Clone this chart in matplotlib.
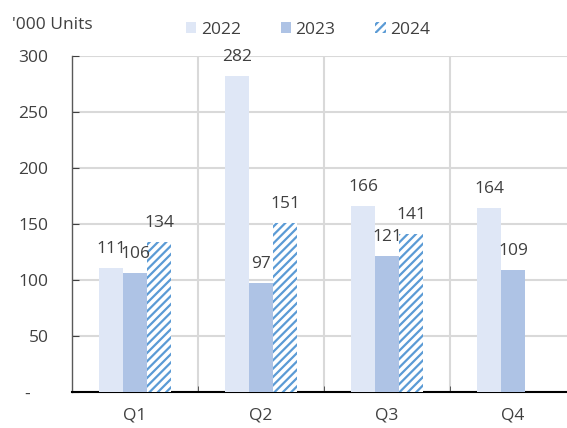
import matplotlib
matplotlib.use("Agg")
import matplotlib.pyplot as plt
import numpy as np
from matplotlib.patches import Patch

quarters = ["Q1", "Q2", "Q3", "Q4"]
years = ["2022", "2023", "2024"]
v2022 = [111, 282, 166, 164]
v2023 = [106, 97, 121, 109]
v2024 = [134, 151, 141, None]
yticks = [0, 50, 100, 150, 200, 250, 300]
ytick_labels = ["-    ", "50", "100", "150", "200", "250", "300"]

plt.rcParams['font.family'] = ['Open Sans', 'DejaVu Sans']
plt.rcParams['hatch.linewidth'] = 1.6

c22 = '#DFE7F6'
c23 = '#AEC3E5'
c24 = '#5B9BD5'
txt = '#404040'
FS = 12.5

fig = plt.figure(figsize=(5.67, 4.28), dpi=100)
ax = fig.add_axes([72/567, 1-392/428, 504/567, 336/428])

x = np.arange(len(quarters))
w = 0.19
series = [(v2022, c22, None), (v2023, c23, None), (v2024, 'white', '////')]
for i, (vals, col, hatch) in enumerate(series):
    off = (i - 1) * w
    for xi, v in zip(x, vals):
        if v is None:
            continue
        if hatch:
            ax.bar(xi + off, v, w, color='white', edgecolor=c24, hatch=hatch, linewidth=0, zorder=3)
        else:
            ax.bar(xi + off, v, w, color=col, linewidth=0, zorder=3)
        ax.annotate(str(v), (xi + off, v), xytext=(0, 10.8), textcoords='offset points',
                    ha='center', va='baseline', fontsize=FS, color=txt, zorder=5,
                    annotation_clip=False)

ax.set_xlim(-0.5, 3.5)
ax.set_ylim(0, 300)
ax.set_yticks(yticks)
ax.set_yticklabels(ytick_labels)
ax.set_xticks(x)
ax.set_xticklabels(quarters)
ax.set_xticks([0.5, 1.5, 2.5], minor=True)
ax.tick_params(axis='x', which='major', length=0, pad=11, labelsize=FS, labelcolor=txt)
ax.tick_params(axis='x', which='minor', length=4, direction='in', color='#404040')
ax.tick_params(axis='y', length=5, direction='in', pad=17, labelsize=FS, labelcolor=txt, color='#404040')
ax.grid(axis='y', color='#D9D9D9', linewidth=1.5, zorder=0)
ax.grid(axis='x', which='minor', color='#D9D9D9', linewidth=1.5, zorder=0)
for s in ['top', 'right']:
    ax.spines[s].set_visible(False)
ax.spines['left'].set_color('#595959')
ax.spines['left'].set_linewidth(1.0)
ax.spines['bottom'].set_color('black')
ax.spines['bottom'].set_linewidth(1.5)
ax.set_axisbelow(True)

fig.text(12/567, 1-25/428, "'000 Units", fontsize=FS, color=txt, ha='left', va='center')

handles = [Patch(facecolor=c22, linewidth=0),
           Patch(facecolor=c23, linewidth=0),
           Patch(facecolor='white', edgecolor=c24, hatch='////', linewidth=0)]
fig.legend(handles, years, loc='center', bbox_to_anchor=(308/567, 1-30/428), ncol=3,
           frameon=False, fontsize=FS, labelcolor=txt, handlelength=0.6, handleheight=0.6,
           handletextpad=0.25, columnspacing=2.3)

fig.savefig('out.png', dpi=100)
